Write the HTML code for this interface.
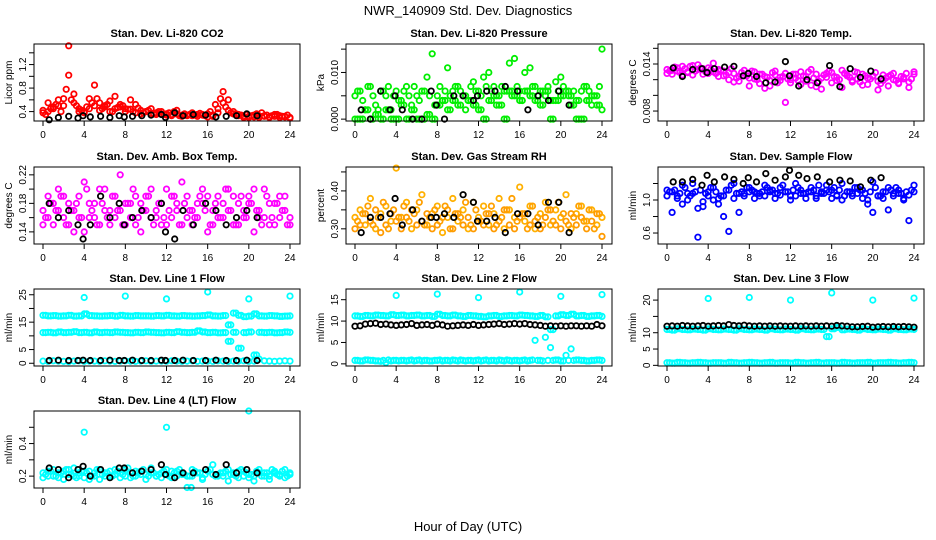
<!DOCTYPE html>
<html><head><meta charset="utf-8"><style>
html,body{margin:0;padding:0;background:#fff;}
svg{display:block;font-family:"Liberation Sans",Arial,sans-serif;}
</style></head><body>
<svg id="chart" width="936" height="540" viewBox="0 0 936 540" xmlns="http://www.w3.org/2000/svg">
<rect width="936" height="540" fill="#fff"/>
<text x="468" y="15" text-anchor="middle" font-size="13">NWR_140909 Std. Dev. Diagnostics</text>
<text x="468" y="531" text-anchor="middle" font-size="13">Hour of Day (UTC)</text>
</svg>
<script>
const hours49=[0,0.5,1,1.5,2,2.5,3,3.5,4,4.5,5,5.5,6,6.5,7,7.5,8,8.5,9,9.5,10,10.5,11,11.5,12,12.5,13,13.5,14,14.5,15,15.5,16,16.5,17,17.5,18,18.5,19,19.5,20,20.5,21,21.5,22,22.5,23,23.5,24];
const hoursQ=[0.25,0.75,1.25,1.75,2.25,2.75,3.25,3.75,4.25,4.75,5.25,5.75,6.25,6.75,7.25,7.75,8.25,8.75,9.25,9.75,10.25,10.75,11.25,11.75,12.25,12.75,13.25,13.75,14.25,14.75,15.25,15.75,16.25,16.75,17.25,17.75,18.25,18.75,19.25,19.75,20.25,20.75,21.25,21.75,22.25,22.75,23.25,23.75];
const hours24=[0.6,1.5,2.5,3.4,3.9,4.6,5.6,6.5,7.4,7.9,8.7,9.6,10.5,11.5,11.9,12.8,13.6,14.6,15.8,16.8,17.8,18.8,19.8,20.8];
const hoursOut=[4,8,12,16,20,24];
const xTicks=[0,4,8,12,16,20,24];

const co2A=[0.42,0.55,0.48,0.6,0.5,1.52,0.7,0.45,0.4,0.62,0.85,0.55,0.5,0.58,0.66,0.48,0.45,0.6,0.52,0.42,0.4,0.45,0.38,0.4,0.36,0.35,0.42,0.34,0.33,0.38,0.35,0.34,0.36,0.32,0.45,0.74,0.6,0.4,0.35,0.32,0.3,0.34,0.33,0.32,0.3,0.35,0.33,0.32,0.3];
const co2B=[0.38,0.4,0.45,0.5,0.62,1.02,0.55,0.4,0.38,0.45,0.5,0.42,0.48,0.4,0.45,0.52,0.4,0.44,0.38,0.36,0.4,0.37,0.35,0.36,0.34,0.33,0.36,0.32,0.34,0.33,0.32,0.35,0.31,0.34,0.38,0.55,0.42,0.36,0.33,0.3,0.32,0.31,0.3,0.33,0.31,0.32,0.3,0.31,0.29];
const co2C=[0.35,0.45,0.52,0.4,0.78,0.6,0.5,0.42,0.48,0.55,0.62,0.45,0.52,0.4,0.47,0.5,0.44,0.4,0.46,0.38,0.42,0.36,0.4,0.35,0.38,0.4,0.33,0.36,0.35,0.34,0.37,0.33,0.4,0.52,0.62,0.48,0.38,0.36,0.34,0.35,0.33,0.36,0.38,0.34,0.33,0.35,0.32,0.34];
const co2K=[0.26,0.3,0.32,0.29,0.33,0.31,0.32,0.3,0.33,0.31,0.32,0.33,0.34,0.35,0.3,0.38,0.33,0.35,0.34,0.31,0.32,0.33,0.36,0.33];

const presA=[0.005,0.006,0.002,0.007,0.003,0.006,0.005,0.002,0.006,0.004,0.007,0.003,0.005,0.006,0.009,0.014,0.005,0.004,0.011,0.006,0.007,0.005,0.004,0.008,0.006,0.009,0.010,0.007,0.005,0.006,0.012,0.013,0.006,0.010,0.011,0.007,0.006,0.005,0.004,0.008,0.009,0.006,0.005,0.004,0.006,0.007,0.003,0.005,0.015];
const presB=[0,0,0.002,0,0.001,0,0.002,0,0,0.003,0,0.002,0,0,0.001,0,0.003,0.004,0.002,0.004,0.003,0.005,0.004,0.003,0.002,0,0.004,0.005,0.003,0,0.006,0.005,0.004,0.006,0.005,0.004,0.003,0.006,0,0.004,0.005,0.006,0.003,0,0,0.004,0.005,0.003,0.002];
const presC=[0.006,0.004,0.007,0.005,0.002,0.006,0.007,0.005,0.004,0.006,0.005,0.007,0.004,0.006,0.005,0.003,0.007,0.006,0.005,0.007,0.006,0.002,0.007,0.006,0.005,0.007,0.006,0.003,0.007,0.006,0.005,0.007,0.004,0.006,0.007,0.005,0.006,0.007,0.004,0.006,0.007,0.005,0.006,0.004,0.007,0.006,0.005,0.007];
const presK=[0.002,0,0.006,0.002,0.005,0.002,0,0,0.006,0.003,0,0.005,0.005,0.004,0.005,0.006,0.006,0.007,0.006,0.002,0.005,0.004,0.006,0.003];

const tempA=[0.0128,0.0132,0.0135,0.0126,0.0130,0.0138,0.0133,0.0127,0.0135,0.0130,0.0124,0.0131,0.0120,0.0128,0.0118,0.0125,0.0122,0.0130,0.0115,0.0124,0.0112,0.0126,0.0119,0.0128,0.0116,0.0122,0.0130,0.0118,0.0113,0.0127,0.0108,0.0123,0.0129,0.0119,0.0132,0.0125,0.0117,0.0121,0.0127,0.0114,0.0124,0.0118,0.0126,0.0112,0.0120,0.0116,0.0123,0.0110,0.0127];
const tempB=[0.0133,0.0127,0.0131,0.0137,0.0129,0.0126,0.0139,0.0134,0.0128,0.0141,0.0133,0.0125,0.0129,0.0117,0.0124,0.0132,0.0112,0.0121,0.0127,0.0109,0.0119,0.0131,0.0123,0.0091,0.0120,0.0127,0.0114,0.0124,0.0133,0.0111,0.0122,0.0128,0.0116,0.0123,0.0110,0.0126,0.0119,0.0129,0.0113,0.0122,0.0125,0.0107,0.0119,0.0124,0.0128,0.0115,0.0121,0.0117,0.0130];
const tempC=[0.0131,0.0136,0.0129,0.0134,0.0137,0.0131,0.0135,0.0130,0.0133,0.0128,0.0132,0.0126,0.0134,0.0122,0.0129,0.0125,0.0131,0.0120,0.0127,0.0123,0.0129,0.0116,0.0124,0.0121,0.0127,0.0119,0.0125,0.0130,0.0122,0.0118,0.0126,0.0131,0.0124,0.0120,0.0128,0.0123,0.0130,0.0117,0.0125,0.0121,0.0129,0.0115,0.0122,0.0126,0.0119,0.0124,0.0128,0.0121];
const tempK=[0.0135,0.0124,0.0133,0.0134,0.0129,0.0134,0.0136,0.0137,0.0125,0.0128,0.0124,0.0116,0.0117,0.0143,0.0125,0.0112,0.0120,0.0116,0.0138,0.0111,0.0134,0.0123,0.0131,0.0121];

const ambA=[0.17,0.19,0.15,0.2,0.16,0.18,0.14,0.19,0.21,0.16,0.18,0.15,0.2,0.17,0.16,0.22,0.15,0.18,0.19,0.14,0.17,0.2,0.16,0.18,0.15,0.19,0.17,0.21,0.16,0.15,0.18,0.2,0.14,0.17,0.19,0.16,0.2,0.15,0.18,0.17,0.19,0.14,0.16,0.2,0.18,0.15,0.19,0.17,0.16];
const ambB=[0.15,0.16,0.18,0.17,0.19,0.15,0.17,0.16,0.14,0.18,0.16,0.2,0.17,0.15,0.19,0.17,0.18,0.16,0.15,0.18,0.19,0.16,0.17,0.15,0.2,0.16,0.18,0.15,0.19,0.17,0.16,0.18,0.19,0.15,0.16,0.18,0.17,0.19,0.15,0.16,0.18,0.2,0.17,0.16,0.15,0.18,0.16,0.19,0.15];
const ambC=[0.16,0.18,0.17,0.19,0.15,0.17,0.18,0.16,0.2,0.17,0.15,0.18,0.16,0.19,0.17,0.15,0.18,0.2,0.16,0.17,0.19,0.15,0.18,0.16,0.17,0.19,0.15,0.18,0.17,0.16,0.19,0.17,0.15,0.18,0.16,0.2,0.17,0.15,0.19,0.16,0.18,0.17,0.15,0.19,0.16,0.18,0.17,0.15];
const ambK=[0.18,0.16,0.17,0.15,0.13,0.15,0.19,0.16,0.18,0.15,0.16,0.17,0.16,0.18,0.14,0.13,0.17,0.15,0.18,0.17,0.15,0.16,0.17,0.16];

const rhA=[0.33,0.35,0.31,0.38,0.3,0.34,0.36,0.32,0.46,0.33,0.37,0.3,0.35,0.39,0.31,0.34,0.36,0.29,0.33,0.38,0.32,0.35,0.3,0.37,0.33,0.36,0.31,0.34,0.38,0.3,0.35,0.33,0.41,0.32,0.36,0.3,0.34,0.37,0.31,0.35,0.33,0.39,0.3,0.34,0.36,0.32,0.35,0.31,0.33];
const rhB=[0.3,0.31,0.34,0.32,0.35,0.29,0.31,0.34,0.32,0.3,0.33,0.35,0.31,0.32,0.34,0.3,0.31,0.33,0.35,0.3,0.34,0.31,0.33,0.3,0.32,0.31,0.34,0.3,0.32,0.35,0.31,0.3,0.33,0.34,0.31,0.32,0.3,0.33,0.35,0.31,0.3,0.32,0.34,0.31,0.33,0.3,0.32,0.34,0.28];
const rhC=[0.32,0.34,0.36,0.31,0.33,0.37,0.3,0.35,0.33,0.36,0.32,0.34,0.37,0.31,0.33,0.35,0.32,0.36,0.3,0.34,0.33,0.37,0.31,0.35,0.32,0.34,0.36,0.31,0.33,0.35,0.38,0.32,0.34,0.3,0.36,0.33,0.31,0.35,0.32,0.37,0.34,0.31,0.33,0.36,0.32,0.35,0.3,0.34];
const rhK=[0.29,0.33,0.33,0.34,0.38,0.31,0.35,0.32,0.33,0.33,0.34,0.33,0.39,0.37,0.32,0.32,0.33,0.29,0.34,0.34,0.31,0.37,0.37,0.29];

const flowA=[1.12,0.85,1.05,1.18,1.08,1.2,0.55,0.92,1.1,1.15,1.02,0.8,1.12,1.2,0.85,1.08,1.15,1.1,1.05,1.18,1.12,1.08,1.15,1.1,1.05,1.2,1.12,1.08,1.15,1.02,1.1,1.18,1.12,1.05,1.2,1.1,1.08,1.15,1.12,1.0,1.22,1.05,1.1,1.15,1.08,1.12,1.0,0.75,1.18];
const flowB=[1.05,1.1,1.02,0.95,1.0,1.08,0.9,0.98,1.05,1.0,0.95,1.05,0.62,1.02,1.08,1.05,1.1,1.02,1.08,1.05,1.1,1.02,1.06,1.1,1.0,1.05,1.08,1.02,1.1,1.05,1.08,1.12,1.02,1.06,1.0,1.1,1.05,1.08,1.02,0.95,0.85,1.05,1.02,0.88,1.05,1.08,1.02,1.06,1.1];
const flowC=[1.1,1.12,1.08,1.15,1.05,1.1,1.12,1.08,1.15,1.1,1.05,1.12,1.18,1.08,1.1,1.15,1.12,1.08,1.1,1.15,1.12,1.08,1.18,1.1,1.12,1.15,1.08,1.1,1.12,1.18,1.08,1.1,1.15,1.12,1.05,1.1,1.15,1.12,1.08,1.1,1.15,1.05,1.1,1.12,1.15,1.08,1.1,1.12];
const flowK=[1.22,1.22,1.25,1.18,1.3,1.22,1.28,1.25,1.2,1.27,1.22,1.32,1.24,1.28,1.36,1.3,1.26,1.28,1.22,1.24,1.23,1.16,1.24,1.27];

const l1U=[17.5,17.3,17.4,17.2,17.3,17.5,17.2,17.3,18,17.4,17.3,17.2,17.3,17.4,17.2,17.5,17.3,17.2,17.4,17.3,17.3,17.2,17.4,17.3,17.5,17.3,17.2,17.4,17.3,17.2,17.3,17.4,17.6,17.3,17.2,17.4,14,18.3,17.5,17,17.2,18,17.3,17.2,17.4,17.3,17.1,17.2,17.3];
const l1M=[11.2,11.3,11.1,11.4,11.2,11.3,11.5,11.2,11.3,11.1,11.4,11.2,11.3,11.2,11.4,11.3,11.2,11.1,11.3,11.2,11.4,11.3,11.2,11.1,11.3,11.2,11.5,11.3,11.2,11.3,11.8,11.4,11.2,11.3,11.1,11.2,8,11.3,5.5,11.2,11.4,3,11.3,11.2,11.3,11.1,11.2,11.4,11.3];
const l1L=[0.8,0.7,0.9,0.8,0.7,0.6,0.8,0.9,0.7,0.8,0.8,0.7,0.9,0.8,0.7,0.8,0.9,0.8,0.7,0.8,0.9,0.7,0.8,0.8,0.7,0.9,0.8,0.7,0.8,0.9,0.7,0.8,0.8,0.7,0.9,0.8,0.7,0.8,0.8,0.9,0.7,0.8,1.5,0.9,0.8,0.7,0.8,0.9,0.8];
const l1K=[1,1.1,1,1,1.1,1,1,1.1,1,1,1.1,1,1,1.1,1,1,1.1,1,1,1.1,1,1,1.1,1];
const l1Out=[24,24.5,23.5,26,23.5,24.5];

const l2U=[11.2,11.1,11.3,11.2,11.4,11.3,11.2,11.5,11.3,11.4,11.2,11.3,11.4,11.2,11.3,11.1,11.6,11.3,11.2,11.4,11.2,11.1,11.3,11.2,11.1,11,11.2,11.3,11.1,11.2,11.3,11.2,11.4,11.3,11.2,11.1,11.3,11,8,11.2,11.5,11.3,11.6,11.2,11.3,11.1,11.2,11.3,11.1];
const l2K=[8.8,8.9,9.3,9.4,9.5,9.2,9.3,9.1,9.0,9.1,9.2,9.4,9.0,9.1,9.2,9.0,9.3,9.1,8.8,8.9,9.0,9.1,9.0,9.2,9.0,9.1,9.2,9.3,9.4,9.2,9.3,9.4,9.3,9.4,9.2,9.1,9.0,8.8,8.9,8.8,8.9,8.8,8.9,8.9,8.8,8.9,8.8,9.2,8.9];
const l2L=[0.8,0.7,0.9,0.8,0.7,0.6,0.3,0.7,0.8,0.8,0.7,0.9,0.8,0.7,0.8,0.7,0.8,0.7,0.8,0.9,0.7,0.8,0.8,0.7,0.9,0.8,0.7,0.8,0.9,0.7,0.8,0.8,0.7,0.9,0.8,5.5,0.8,6.2,3.8,0.9,0.7,2.0,3.5,0.9,0.8,0.7,0.8,0.9,0.8];
const l2Out=[16,16.3,15.5,16.8,15.8,16.2];

const l3U=[11,10.8,11.2,11,10.9,11.1,11,10.8,11.2,11,10.9,11.1,11,10.8,11.2,11,10.9,11.1,11,10.8,11.2,11,10.9,11.1,11,10.8,11.2,11,10.9,11.1,11,8.8,11.2,11.6,10.9,11.1,11,10.8,11.2,11,10.9,11.1,11,10.8,11.2,11,10.9,11.1,11];
const l3K=[12,12.1,12,12.2,12.1,12,12.1,12.2,12,12.1,12.2,12.1,12.5,12.2,12.1,12.3,12.1,12,12.1,12,12.1,12,12.1,12,12,12.1,12,12.1,12,12.1,12,12.1,12,12.2,12.1,12,11.8,11.8,11.9,12,11.7,11.8,11.9,11.8,11.9,11.8,11.9,11.8,11.7];
const l3L=[0.8,0.7,0.9,0.8,0.7,0.8,0.9,0.8,0.7,0.8,0.8,0.7,0.9,0.8,0.7,0.8,0.9,0.8,0.7,0.8,0.9,0.7,0.8,0.8,0.7,0.9,0.8,0.7,0.8,0.9,0.7,0.8,0.8,0.7,0.9,0.8,0.7,0.8,0.8,0.9,0.7,0.8,0.8,0.9,0.8,0.7,0.8,0.9,0.8];
const l3Out=[20.5,20.8,20,22.2,20,20.6];

const l4A=[0.22,0.2,0.24,0.19,0.23,0.21,0.25,0.2,0.23,0.18,0.22,0.24,0.2,0.23,0.21,0.19,0.24,0.22,0.2,0.23,0.21,0.25,0.2,0.22,0.24,0.19,0.23,0.21,0.2,0.24,0.22,0.19,0.23,0.27,0.21,0.2,0.24,0.22,0.19,0.23,0.21,0.2,0.24,0.22,0.2,0.23,0.21,0.24,0.22];
const l4B=[0.19,0.23,0.2,0.22,0.18,0.24,0.2,0.22,0.19,0.23,0.2,0.18,0.22,0.2,0.24,0.22,0.2,0.19,0.23,0.21,0.18,0.22,0.2,0.19,0.21,0.23,0.2,0.22,0.13,0.2,0.22,0.18,0.23,0.21,0.2,0.22,0.17,0.21,0.23,0.2,0.19,0.17,0.22,0.2,0.18,0.22,0.2,0.19,0.21];
const l4C=[0.21,0.23,0.2,0.22,0.24,0.21,0.19,0.23,0.22,0.2,0.24,0.21,0.22,0.2,0.23,0.21,0.25,0.2,0.22,0.24,0.2,0.22,0.21,0.23,0.2,0.22,0.24,0.21,0.2,0.23,0.22,0.21,0.24,0.2,0.22,0.23,0.21,0.2,0.24,0.22,0.21,0.23,0.2,0.22,0.24,0.21,0.23,0.2];
const l4K=[0.25,0.24,0.19,0.24,0.26,0.2,0.24,0.19,0.25,0.25,0.22,0.23,0.24,0.27,0.21,0.19,0.22,0.22,0.24,0.21,0.27,0.22,0.24,0.22];
const l4OutH=[4,12,20,14.4];
const l4Out=[0.47,0.5,0.6,0.13];

const NS="http://www.w3.org/2000/svg";
const svg=document.getElementById('chart');
function mk(tag,attrs,parent){const e=document.createElementNS(NS,tag);for(const k in attrs)e.setAttribute(k,attrs[k]);(parent||svg).appendChild(e);return e;}

function panel(p){
  const left=34+312*p.col, right=300+312*p.col, top=[44,167,289,411][p.row], bottom=top+77;
  const x0=43+312*p.col, x24=290+312*p.col;
  const xs=h=>x0+(x24-x0)*h/24;
  const ys=v=>bottom-(v-p.ylim[0])/(p.ylim[1]-p.ylim[0])*(bottom-top);
  const g=mk('g',{});
  
  
  const t=mk('text',{x:(left+right)/2,y:top-7,'text-anchor':'middle','font-size':'11','font-weight':'bold'},g);
  
  
  t.textContent=p.title;
  const yl=mk('text',{x:0,y:0,'text-anchor':'middle','font-size':'10',transform:`translate(${12+312*p.col},${(top+bottom)/2}) rotate(-90)`},g);
  
  
  yl.textContent=p.ylab;
  p.series.forEach(s=>{
    const sg=mk('g',{fill:'none',stroke:s.color,'stroke-width':'1.8'},g);
    
    
    s.v.forEach((v,i)=>{
      if(s.h[i]===undefined) return;
      const c=mk('circle',{cx:xs(s.h[i]).toFixed(1),cy:ys(v).toFixed(1),r:'2.7'},sg);
      
      
    });
  });
  const box=mk('rect',{x:left,y:top,width:right-left,height:bottom-top,fill:'none',stroke:'#000','stroke-width':'1'},g);
  
  
  const xa=mk('g',{},g);
  
  
  mk('line',{x1:x0,x2:x24,y1:bottom,y2:bottom,stroke:'#000'},xa);
  xTicks.forEach(h=>{
    mk('line',{x1:xs(h),x2:xs(h),y1:bottom,y2:bottom+5,stroke:'#000'},xa);
    const tl=mk('text',{x:xs(h),y:bottom+17,'text-anchor':'middle','font-size':'10'},xa);
    
    
    tl.textContent=h;
  });
  const ya=mk('g',{},g);
  
  
  mk('line',{x1:left,x2:left,y1:ys(p.yticks[0]),y2:ys(p.yticks[p.yticks.length-1]),stroke:'#000'},ya);
  p.yticks.forEach((v,i)=>{
    mk('line',{x1:left-5,x2:left,y1:ys(v),y2:ys(v),stroke:'#000'},ya);
    if(p.ylabels[i]!==''){
      const tl=mk('text',{x:0,y:0,'text-anchor':'middle','font-size':'10',transform:`translate(${left-8},${ys(v)}) rotate(-90)`},ya);
      
      
      tl.textContent=p.ylabels[i];
    }
  });
}
const K='#000', CY='#00ffff';
panel({name:'panel-co2',col:0,row:0,title:'Stan. Dev. Li-820 CO2',ylab:'Licor ppm',ylim:[0.24,1.55],yticks:[0.4,0.6,0.8,1.0,1.2,1.4],ylabels:['0.4','','0.8','','1.2',''],
 series:[{name:'co2-series-a',color:'#ff0000',h:hours49,v:co2A},{name:'co2-series-b',color:'#ff0000',h:hours49,v:co2B},{name:'co2-series-c',color:'#ff0000',h:hoursQ,v:co2C},{name:'co2-reference',color:K,h:hours24,v:co2K}]});
panel({name:'panel-pressure',col:1,row:0,title:'Stan. Dev. Li-820 Pressure',ylab:'kPa',ylim:[-0.0004,0.0161],yticks:[0,0.005,0.010,0.015],ylabels:['0.000','','0.010',''],
 series:[{name:'pressure-series-a',color:'#00ee00',h:hours49,v:presA},{name:'pressure-series-b',color:'#00ee00',h:hours49,v:presB},{name:'pressure-series-c',color:'#00ee00',h:hoursQ,v:presC},{name:'pressure-series-d',color:'#00ee00',h:hoursQ,v:presB},{name:'pressure-reference',color:K,h:hours24,v:presK}]});
panel({name:'panel-temp',col:2,row:0,title:'Stan. Dev. Li-820 Temp.',ylab:'degrees C',ylim:[0.00673,0.01655],yticks:[0.008,0.010,0.012,0.014,0.016],ylabels:['0.008','','','0.014',''],
 series:[{name:'temp-series-a',color:'#ff00ff',h:hours49,v:tempA},{name:'temp-series-b',color:'#ff00ff',h:hours49,v:tempB},{name:'temp-series-c',color:'#ff00ff',h:hoursQ,v:tempC},{name:'temp-reference',color:K,h:hours24,v:tempK}]});
panel({name:'panel-amb-temp',col:0,row:1,title:'Stan. Dev. Amb. Box Temp.',ylab:'degrees C',ylim:[0.123,0.231],yticks:[0.14,0.16,0.18,0.20,0.22],ylabels:['0.14','','0.18','','0.22'],
 series:[{name:'amb-series-a',color:'#ff00ff',h:hours49,v:ambA},{name:'amb-series-b',color:'#ff00ff',h:hours49,v:ambB},{name:'amb-series-c',color:'#ff00ff',h:hoursQ,v:ambC},{name:'amb-reference',color:K,h:hours24,v:ambK}]});
panel({name:'panel-rh',col:1,row:1,title:'Stan. Dev. Gas Stream RH',ylab:'percent',ylim:[0.26,0.463],yticks:[0.30,0.35,0.40,0.45],ylabels:['0.30','','0.40',''],
 series:[{name:'rh-series-a',color:'#ffb000',h:hours49,v:rhA},{name:'rh-series-b',color:'#ff9a00',h:hours49,v:rhB},{name:'rh-series-c',color:'#ffa000',h:hoursQ,v:rhC},{name:'rh-reference',color:K,h:hours24,v:rhK}]});
panel({name:'panel-sample-flow',col:2,row:1,title:'Stan. Dev. Sample Flow',ylab:'ml/min',ylim:[0.467,1.4],yticks:[0.6,0.8,1.0,1.2],ylabels:['0.6','','1.0',''],
 series:[{name:'flow-series-a',color:'#0000ff',h:hours49,v:flowA},{name:'flow-series-b',color:'#0000ff',h:hours49,v:flowB},{name:'flow-series-c',color:'#0000ff',h:hoursQ,v:flowC},{name:'flow-reference',color:K,h:hours24,v:flowK}]});
panel({name:'panel-line1',col:0,row:2,title:'Stan. Dev. Line 1 Flow',ylab:'ml/min',ylim:[-1,27.1],yticks:[0,5,10,15,20,25],ylabels:['0','5','','15','','25'],
 series:[{name:'line1-upper',color:CY,h:hours49,v:l1U},{name:'line1-upper-b',color:CY,h:hoursQ,v:l1U},{name:'line1-mid',color:CY,h:hours49,v:l1M},{name:'line1-mid-b',color:CY,h:hoursQ,v:l1M},{name:'line1-low',color:CY,h:hours49,v:l1L},{name:'line1-outliers',color:CY,h:hoursOut,v:l1Out},{name:'line1-reference',color:K,h:hours24,v:l1K}]});
panel({name:'panel-line2',col:1,row:2,title:'Stan. Dev. Line 2 Flow',ylab:'ml/min',ylim:[-0.5,17.5],yticks:[0,5,10,15],ylabels:['0','5','10','15'],
 series:[{name:'line2-upper',color:CY,h:hours49,v:l2U},{name:'line2-upper-b',color:CY,h:hoursQ,v:l2U},{name:'line2-low',color:CY,h:hours49,v:l2L},{name:'line2-low-b',color:CY,h:hoursQ,v:l3L},{name:'line2-outliers',color:CY,h:hoursOut,v:l2Out},{name:'line2-reference',color:K,h:hours49,v:l2K}]});
panel({name:'panel-line3',col:2,row:2,title:'Stan. Dev. Line 3 Flow',ylab:'ml/min',ylim:[-0.2,23.4],yticks:[0,5,10,15,20],ylabels:['0','5','10','','20'],
 series:[{name:'line3-upper',color:CY,h:hours49,v:l3U},{name:'line3-upper-b',color:CY,h:hoursQ,v:l3U},{name:'line3-low',color:CY,h:hours49,v:l3L},{name:'line3-low-b',color:CY,h:hoursQ,v:l3L},{name:'line3-outliers',color:CY,h:hoursOut,v:l3Out},{name:'line3-reference',color:K,h:hours49,v:l3K}]});
panel({name:'panel-line4',col:0,row:3,title:'Stan. Dev. Line 4 (LT) Flow',ylab:'ml/min',ylim:[0.127,0.6],yticks:[0.2,0.3,0.4,0.5],ylabels:['0.2','','0.4',''],
 series:[{name:'line4-series-a',color:CY,h:hours49,v:l4A},{name:'line4-series-b',color:CY,h:hours49,v:l4B},{name:'line4-series-c',color:CY,h:hoursQ,v:l4C},{name:'line4-outliers',color:CY,h:l4OutH,v:l4Out},{name:'line4-reference',color:K,h:hours24,v:l4K}]});
</script>
</body></html>
